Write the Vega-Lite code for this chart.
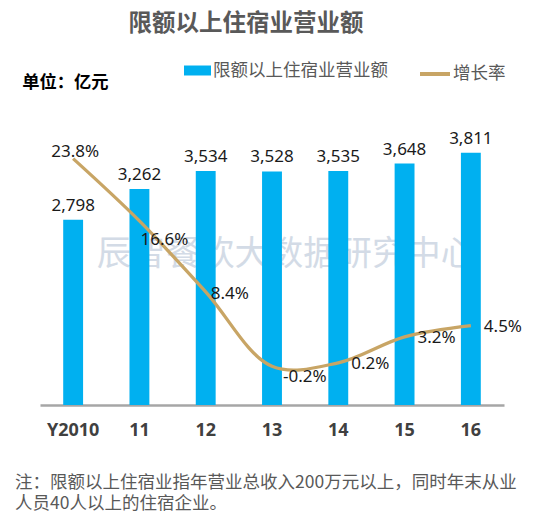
{
  "$schema": "https://vega.github.io/schema/vega-lite/v6.json",
  "width": 464,
  "height": 290,
  "autosize": {"type": "none"},
  "padding": {"left": 40, "top": 115, "right": 38, "bottom": 109},
  "background": "white",
  "title": {
    "text": "限额以上住宿业营业额",
    "anchor": "middle",
    "frame": "group",
    "dx": -26,
    "offset": 3,
    "fontSize": 23.5,
    "font": "Noto Sans CJK SC",
    "fontWeight": "bold",
    "color": "#595959",
    "baseline": "alphabetic"
  },
  "data": {
    "values": [
      {"year": "Y2010", "revenue": 2798, "growth": 0.238},
      {"year": "11", "revenue": 3262, "growth": 0.166},
      {"year": "12", "revenue": 3534, "growth": 0.084},
      {"year": "13", "revenue": 3528, "growth": -0.002},
      {"year": "14", "revenue": 3535, "growth": 0.002},
      {"year": "15", "revenue": 3648, "growth": 0.032},
      {"year": "16", "revenue": 3811, "growth": 0.045}
    ]
  },
  "encoding": {
    "x": {
      "field": "year",
      "type": "ordinal",
      "sort": null,
      "scale": {"domain": ["Y2010", "11", "12", "13", "14", "15", "16"], "paddingInner": 0.7, "paddingOuter": 0.35},
      "axis": {
        "title": ["注：限额以上住宿业指年营业总收入200万元以上，同时年末从业", "人员40人以上的住宿企业。"],
        "titleX": -25.4,
        "titleY": 82,
        "titleAlign": "left",
        "titleAngle": 0,
        "titleBaseline": "alphabetic",
        "titleFont": "Noto Sans CJK SC",
        "titleFontSize": 17.5,
        "titleFontWeight": "normal",
        "titleColor": "#595959",
        "titleLineHeight": 21.5,
        "labelAngle": 0,
        "labelFont": "Noto Sans",
        "labelFontSize": 18,
        "labelFontWeight": "bold",
        "labelColor": "#404040",
        "labelPadding": 16,
        "ticks": false,
        "tickSize": 0,
        "domainColor": "#a6a6a6",
        "domainWidth": 2.5,
        "grid": false
      }
    }
  },
  "layer": [
    {
      "encoding": {
        "y": {
          "field": "revenue",
          "type": "quantitative",
          "scale": {"domain": [0, 4381], "nice": false, "zero": true},
          "axis": {
            "labels": false,
            "ticks": false,
            "domain": false,
            "grid": false,
            "title": "单位：亿元",
            "titleAngle": 0,
            "titleX": -18.3,
            "titleY": -32.5,
            "titleAlign": "left",
            "titleBaseline": "middle",
            "titleFont": "Noto Sans CJK SC",
            "titleFontSize": 17.3,
            "titleFontWeight": "bold",
            "titleColor": "#000000"
          }
        }
      },
      "layer": [
        {
          "transform": [{"filter": "datum.year == '13'"}],
          "mark": {"type": "text", "font": "Noto Sans CJK SC", "fontSize": 34.4, "color": "#d3dbe6", "align": "center", "baseline": "middle", "dx": 14},
          "encoding": {
            "y": {"datum": 2266},
            "text": {"value": "辰智餐饮大数据研究中心"}
          }
        },
        {
          "mark": {"type": "bar", "color": "#00B0F0"},
          "encoding": {
            "color": {
              "datum": "限额以上住宿业营业额",
              "scale": {"range": ["#00B0F0"]},
              "legend": {
                "title": null,
                "orient": "none",
                "legendX": 144,
                "legendY": -58,
                "symbolType": "M-1,-0.37H1V0.37H-1Z",
                "symbolSize": 729,
                "symbolStrokeWidth": 0,
                "symbolOpacity": 1,
                "labelFont": "Noto Sans CJK SC",
                "labelFontSize": 17.5,
                "labelColor": "#595959",
                "labelOffset": 2,
                "labelLimit": 400,
                "padding": 0
              }
            }
          }
        },
        {
          "mark": {"type": "text", "font": "Noto Sans", "fontSize": 17, "color": "#1a1a1a", "align": "center", "baseline": "alphabetic", "dy": -9},
          "encoding": {"text": {"field": "revenue", "format": ","}}
        }
      ]
    },
    {
      "encoding": {
        "y": {
          "field": "growth",
          "type": "quantitative",
          "scale": {"domain": [-0.0468, 0.2884], "nice": false, "zero": false},
          "axis": null
        }
      },
      "layer": [
        {
          "mark": {"type": "line", "interpolate": "catmull-rom", "strokeWidth": 3.3},
          "encoding": {
            "stroke": {
              "datum": "增长率",
              "scale": {"range": ["#C8A565"]},
              "legend": {
                "title": null,
                "orient": "none",
                "legendX": 378,
                "legendY": -58,
                "symbolType": "stroke",
                "symbolSize": 900,
                "symbolStrokeWidth": 4,
                "labelFont": "Noto Sans CJK SC",
                "labelFontSize": 17.5,
                "labelColor": "#595959",
                "labelOffset": 1,
                "labelLimit": 200,
                "padding": 0
              }
            }
          }
        },
        {
          "transform": [{"filter": "datum.year == 'Y2010'"}],
          "mark": {"type": "text", "font": "Noto Sans", "fontSize": 17, "color": "#1a1a1a", "align": "center", "baseline": "alphabetic", "dx": 2, "dy": -2},
          "encoding": {"text": {"field": "growth", "format": ".1%"}}
        },
        {
          "transform": [{"filter": "datum.year == '11'"}],
          "mark": {"type": "text", "font": "Noto Sans", "fontSize": 17, "color": "#1a1a1a", "align": "left", "baseline": "alphabetic", "dx": 1, "dy": 24},
          "encoding": {"text": {"field": "growth", "format": ".1%"}}
        },
        {
          "transform": [{"filter": "datum.year == '12'"}],
          "mark": {"type": "text", "font": "Noto Sans", "fontSize": 17, "color": "#1a1a1a", "align": "left", "baseline": "alphabetic", "dx": 5, "dy": 7},
          "encoding": {"text": {"field": "growth", "format": ".1%"}}
        },
        {
          "transform": [{"filter": "datum.year == '13'"}],
          "mark": {"type": "text", "font": "Noto Sans", "fontSize": 17, "color": "#1a1a1a", "align": "left", "baseline": "alphabetic", "dx": 11, "dy": 16},
          "encoding": {"text": {"field": "growth", "format": ".1%"}}
        },
        {
          "transform": [{"filter": "datum.year == '14' || datum.year == '15' || datum.year == '16'"}],
          "mark": {"type": "text", "font": "Noto Sans", "fontSize": 17, "color": "#1a1a1a", "align": "left", "baseline": "alphabetic", "dx": 13, "dy": 6.5},
          "encoding": {"text": {"field": "growth", "format": ".1%"}}
        }
      ]
    }
  ],
  "resolve": {"scale": {"y": "independent"}},
  "config": {
    "view": {"stroke": null},
    "locale": {
      "number": {"decimal": ".", "thousands": ",", "grouping": [3], "currency": ["", ""], "minus": "-"}
    }
  }
}
